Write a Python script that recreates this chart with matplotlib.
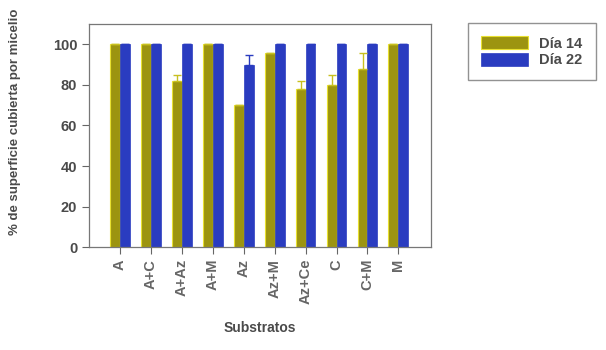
import numpy as np
from matplotlib import pyplot as plt

plt.rcParams['font.family'] = ['Liberation Sans', 'DejaVu Sans']

# data
substratos = ['A', 'A+C', 'A+Az', 'A+M', 'Az', 'Az+M', 'Az+Ce', 'C', 'C+M', 'M']
dia14 = [100, 100, 82, 100, 70, 96, 78, 80, 88, 100]
dia14_err = [0, 0, 3, 0, 0, 0, 4, 5, 8, 0]
dia22 = [100, 100, 100, 100, 90, 100, 100, 100, 100, 100]
dia22_err = [0, 0, 0, 0, 5, 0, 0, 0, 0, 0]

text_col = '#4a4a4a'
olive = '#9c9410'
blue = '#2a3cc0'

fig = plt.figure(figsize=(6.06, 3.5), dpi=100)
ax = fig.add_axes([0.147, 0.294, 0.564, 0.637])

x = np.arange(len(substratos))
w = 0.32
zeros = np.zeros(len(x))
ax.bar(x - w/2, dia14, w, color=olive, edgecolor='#e8e030', linewidth=0.8,
       yerr=[zeros, dia14_err], ecolor='#c8c020', capsize=3,
       error_kw={'elinewidth': 1, 'capthick': 1}, label='Día 14')
ax.bar(x + w/2, dia22, w, color=blue, edgecolor=blue, linewidth=0.5,
       yerr=[zeros, dia22_err], ecolor=blue, capsize=3,
       error_kw={'elinewidth': 1, 'capthick': 1}, label='Día 22')

ax.set_xlim(-1, 10.05)
ax.set_ylim(0, 110)
ax.set_yticks(range(0, 101, 20))
ax.set_xticks(x)
ax.set_xticklabels(substratos, rotation=90, fontsize=10.5, fontweight='bold', color=text_col)
ax.tick_params(axis='y', labelsize=10.5, labelcolor=text_col, colors='#666666', length=5)
for lab in ax.get_yticklabels():
    lab.set_fontweight('bold')
ax.tick_params(axis='x', colors='#666666', length=5)
for sp in ax.spines.values():
    sp.set_color('#777777')
    sp.set_linewidth(0.9)

ax.set_xlabel('Substratos', fontsize=10, fontweight='bold', color=text_col, labelpad=12)
ax.set_ylabel('% de superficie cubierta por micelio', fontsize=9.5, fontweight='bold',
              color=text_col)
ax.yaxis.set_label_coords(-0.20, 0.56)

leg = fig.legend(loc='upper left', bbox_to_anchor=(468/606, 1 - 23/350),
                 borderaxespad=0, fontsize=10.5, frameon=True, fancybox=False,
                 handlelength=3.2, handleheight=1.0, borderpad=0.9, labelspacing=0.15)
leg.get_frame().set_edgecolor('#777777')
for t in leg.get_texts():
    t.set_fontweight('bold')
    t.set_color(text_col)

fig.savefig('out.png', dpi=100)
